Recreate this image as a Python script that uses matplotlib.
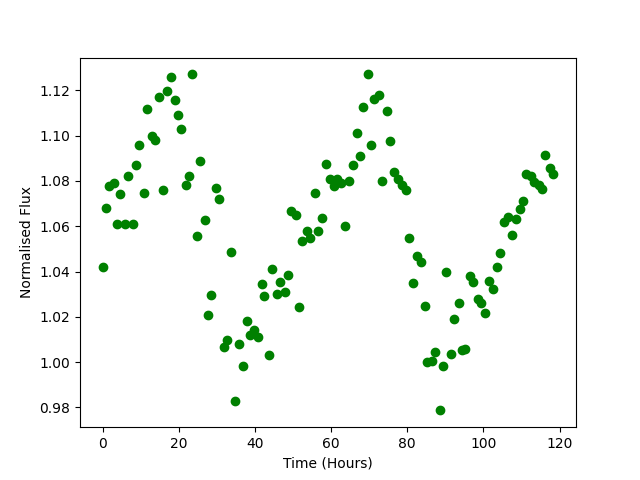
import numpy as np
import matplotlib
matplotlib.use('Agg')
import matplotlib.pyplot as plt

# time (hours) and normalised flux
time = [0, 0.8, 1.8, 2.9, 3.9, 4.7, 6.0, 6.8, 7.9, 8.9,
        9.7, 10.8, 11.8, 12.9, 13.9, 14.7, 15.8, 16.8, 17.9, 18.9,
        19.7, 20.7, 21.8, 22.8, 23.6, 24.7, 25.7, 26.8, 27.8, 28.6,
        29.7, 30.7, 31.8, 32.8, 33.6, 34.7, 35.7, 36.8, 37.8, 38.6,
        39.7, 40.7, 41.8, 42.5, 43.6, 44.6, 45.7, 46.7, 47.8, 48.6,
        49.6, 50.7, 51.7, 52.5, 53.6, 54.6, 55.7, 56.7, 57.5, 58.6,
        59.6, 60.7, 61.5, 62.5, 63.6, 64.6, 65.7, 66.7, 67.5, 68.5,
        69.6, 70.6, 71.4, 72.5, 73.5, 74.6, 75.6, 76.4, 77.5, 78.5,
        79.6, 80.4, 81.4, 82.5, 83.5, 84.6, 85.3, 86.4, 87.4, 88.5,
        89.5, 90.3, 91.4, 92.4, 93.5, 94.5, 95.3, 96.4, 97.4, 98.5,
        99.5, 100.3, 101.4, 102.4, 103.5, 104.3, 105.3, 106.4, 107.4, 108.5,
        109.5, 110.3, 111.3, 112.4, 113.4, 114.5, 115.3, 116.3, 117.4, 118.4]

flux = [1.042, 1.068, 1.0776, 1.079, 1.061, 1.074, 1.061, 1.082, 1.061, 1.087,
        1.0957, 1.0745, 1.1116, 1.100, 1.098, 1.117, 1.076, 1.1196, 1.126, 1.1156,
        1.109, 1.103, 1.078, 1.082, 1.127, 1.0555, 1.0886, 1.0626, 1.021, 1.0295,
        1.077, 1.0718, 1.0065, 1.0096, 1.0484, 0.983, 1.008, 0.9985, 1.018, 1.0118,
        1.0144, 1.0113, 1.0343, 1.029, 1.003, 1.041, 1.030, 1.0352, 1.0308, 1.0383,
        1.0666, 1.0648, 1.0242, 1.0533, 1.058, 1.0546, 1.0745, 1.058, 1.0635, 1.0873,
        1.0807, 1.0776, 1.0807, 1.079, 1.060, 1.080, 1.087, 1.101, 1.0908, 1.1125,
        1.127, 1.096, 1.116, 1.118, 1.080, 1.111, 1.0975, 1.0838, 1.081, 1.078,
        1.0758, 1.0546, 1.0348, 1.0467, 1.044, 1.0246, 0.9999, 1.0003, 1.0043, 0.9787,
        0.9981, 1.0396, 1.0034, 1.0189, 1.0259, 1.0052, 1.006, 1.0378, 1.0352, 1.0277,
        1.0259, 1.0215, 1.0356, 1.0321, 1.0418, 1.048, 1.0617, 1.0639, 1.056, 1.063,
        1.0674, 1.071, 1.0829, 1.082, 1.0794, 1.078, 1.0763, 1.0913, 1.0856, 1.0829]

plt.figure(figsize=(6.4, 4.8), dpi=100)
plt.plot(time, flux, 'go')
plt.xlabel("Time (Hours)")
plt.ylabel("Normalised Flux")
plt.savefig("out.png")
